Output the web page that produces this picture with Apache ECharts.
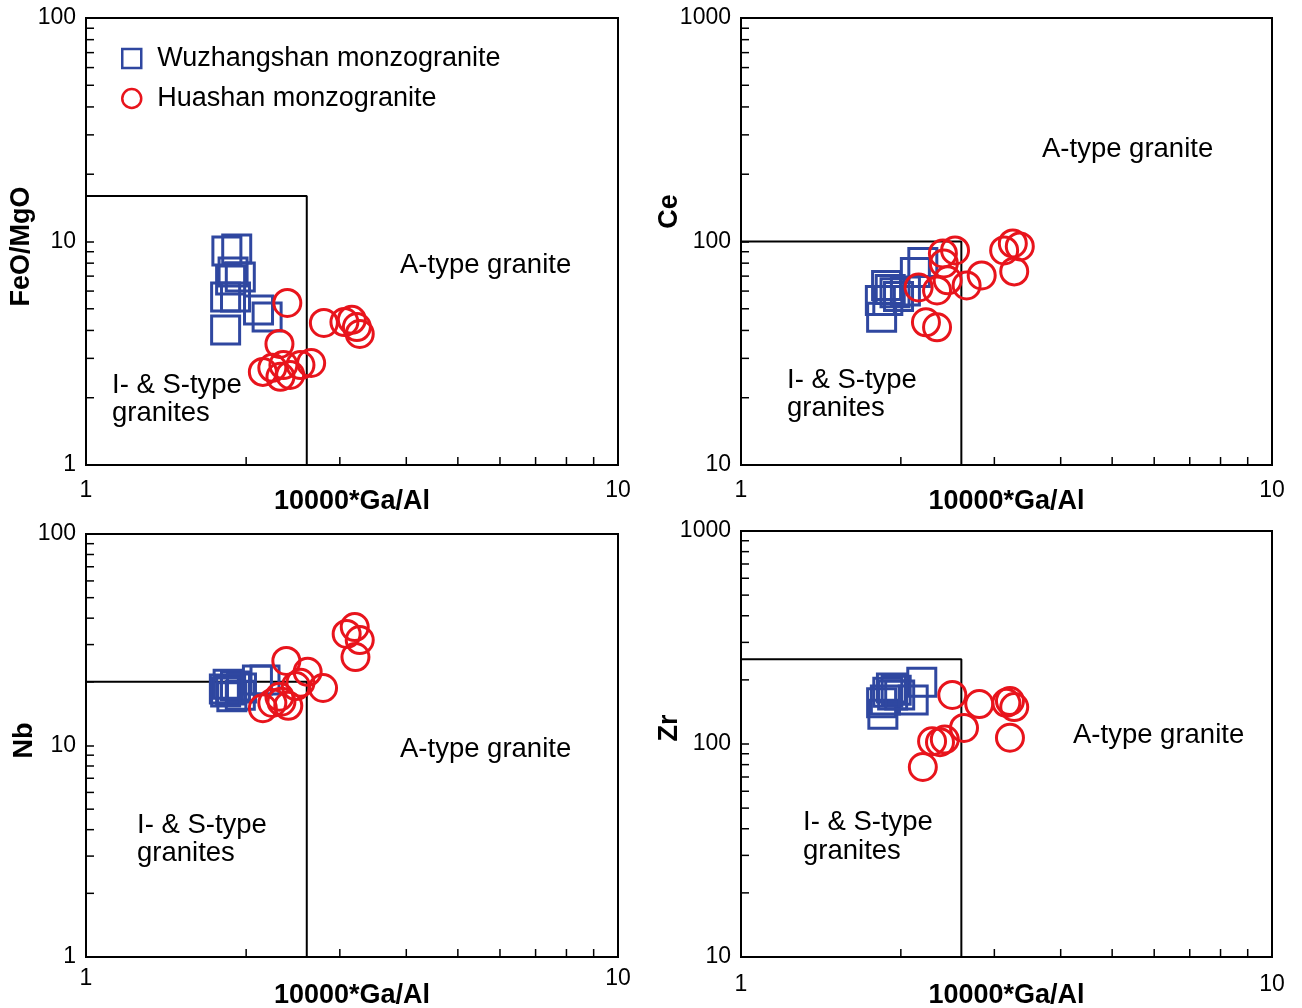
<!DOCTYPE html>
<html>
<head>
<meta charset="utf-8">
<title>Ga/Al discrimination diagrams</title>
<script src="https://cdn.jsdelivr.net/npm/echarts@6/dist/echarts.min.js"></script>
<style>
  html, body { margin: 0; padding: 0; background: #fff; }
  #chart { width: 1302px; height: 1008px; }
</style>
</head>
<body>
<div id="chart"></div>
<script>
// ---- Sample data (10000*Ga/Al vs. discriminant) ----
// FeO/MgO diagram
const wzGaAlFeo = [1.84, 1.92, 1.89, 1.95, 1.83, 1.91, 1.83, 2.11, 2.19, 1.87];
const wzFeoMgo  = [9.07, 9.26, 7.30, 6.94, 5.65, 5.65, 4.02, 4.94, 4.59, 6.73];
const hsGaAlFeo = [2.39, 2.31, 2.15, 2.24, 2.35, 2.42, 2.53, 2.65, 2.32, 2.80, 3.06, 3.16, 3.23, 3.27];
const hsFeoMgo  = [5.31, 3.48, 2.61, 2.72, 2.80, 2.53, 2.80, 2.86, 2.48, 4.32, 4.36, 4.46, 4.14, 3.86];

// Ce diagram
const wzGaAlCe = [1.83, 1.84, 1.88, 1.91, 1.95, 1.98, 2.13, 2.20, 1.89, 2.04];
const wzCe     = [54.5, 45.8, 63.6, 61.0, 59.0, 56.8, 72.7, 80.6, 54.5, 60.0];
const hsGaAlCe = [2.16, 2.34, 2.40, 2.53, 2.41, 2.45, 2.66, 2.84, 2.23, 2.34, 3.13, 3.25, 3.35, 3.27];
const hsCe     = [62.3, 60.4, 88.4, 91.2, 79.8, 67.0, 63.6, 70.5, 43.5, 41.3, 91.2, 98.0, 95.0, 73.5];

// Nb diagram
const wzGaAlNb = [1.82, 1.87, 1.88, 1.91, 1.96, 1.83, 2.10, 2.17, 1.95, 1.85];
const wzNb     = [18.5, 18.3, 17.0, 19.1, 18.7, 17.9, 20.4, 20.4, 17.3, 19.5];
const hsGaAlNb = [2.15, 2.24, 2.31, 2.33, 2.38, 2.40, 2.48, 2.61, 2.53, 2.79, 3.09, 3.20, 3.27, 3.21];
const hsNb     = [15.0, 15.9, 17.0, 16.1, 25.1, 15.4, 19.1, 22.3, 19.8, 18.7, 33.7, 36.3, 31.5, 26.2];

// Zr diagram
const wzGaAlZr = [1.84, 1.85, 1.89, 1.92, 1.96, 1.99, 2.19, 2.11, 1.87, 1.93];
const wzZr     = [156, 138, 175, 183, 179, 170, 195, 161, 161, 170];
const hsGaAlZr = [2.20, 2.29, 2.37, 2.42, 2.50, 2.63, 2.81, 3.16, 3.21, 3.27, 3.21];
const hsZr     = [78, 103, 102, 105, 170, 119, 154, 156, 159, 149, 107];

// Field boundaries (Whalen et al., 1987)
const gaAlLimit = 2.6;
const feoLimit = 16;
const ceLimit = 100;
const nbLimit = 20;
const zrLimit = 250;

// Axis ranges
const xRange = [1, 10];
const feoRange = [1, 100];
const ceRange = [10, 1000];
const nbRange = [1, 100];
const zrRange = [10, 1000];

// Minor tick values
const xMinorTicks = [2, 3, 4, 5, 6, 7, 8, 9];
const yMinorTicks1to100 = [2, 3, 4, 5, 6, 7, 8, 9, 20, 30, 40, 50, 60, 70, 80, 90];
const yMinorTicks10to1000 = [20, 30, 40, 50, 60, 70, 80, 90, 200, 300, 400, 500, 600, 700, 800, 900];

const seriesNames = ['Wuzhangshan monzogranite', 'Huashan monzogranite'];
const FONT = '"Liberation Sans", Arial, Helvetica, sans-serif';
const BLUE = '#2f47a0';
const RED = '#e8141c';

const zip = (a, b) => a.map((v, i) => [v, b[i]]);
const plainNumber = v => String(Math.round(v));

const panels = [
  { grid: { left: 86, top: 18, width: 532, height: 447 }, yName: 'FeO/MgO', yRange: feoRange,
    yTicks: yMinorTicks1to100, limit: feoLimit, wz: zip(wzGaAlFeo, wzFeoMgo), hs: zip(hsGaAlFeo, hsFeoMgo),
    labelMargin: 14, nameGap: 23, yNameGap: 51, yNamePad: [0, 10, 0, 0] },
  { grid: { left: 741, top: 18, width: 531, height: 447 }, yName: 'Ce', yRange: ceRange,
    yTicks: yMinorTicks10to1000, limit: ceLimit, wz: zip(wzGaAlCe, wzCe), hs: zip(hsGaAlCe, hsCe),
    labelMargin: 14, nameGap: 23, yNameGap: 58, yNamePad: [0, 0, 0, 60] },
  { grid: { left: 86, top: 534, width: 532, height: 423 }, yName: 'Nb', yRange: nbRange,
    yTicks: yMinorTicks1to100, limit: nbLimit, wz: zip(wzGaAlNb, wzNb), hs: zip(hsGaAlNb, hsNb),
    labelMargin: 10, nameGap: 25, yNameGap: 48, yNamePad: [0, 0, 0, 10] },
  { grid: { left: 741, top: 531, width: 531, height: 426 }, yName: 'Zr', yRange: zrRange,
    yTicks: yMinorTicks10to1000, limit: zrLimit, wz: zip(wzGaAlZr, wzZr), hs: zip(hsGaAlZr, hsZr),
    labelMargin: 16, nameGap: 25, yNameGap: 58, yNamePad: [0, 0, 0, 32] }
];

const grid = [], xAxis = [], yAxis = [], series = [];

panels.forEach((p, i) => {
  grid.push(Object.assign({
    show: true, borderColor: '#000', borderWidth: 2, backgroundColor: 'transparent',
    containLabel: false, outerBoundsMode: 'none'
  }, p.grid));

  xAxis.push({
    gridIndex: i, type: 'log', logBase: 10, min: xRange[0], max: xRange[1],
    axisLine: { show: true, lineStyle: { color: '#000', width: 2 } },
    axisTick: { show: false },
    splitLine: { show: false },
    axisLabel: { color: '#000', fontSize: 23, fontFamily: FONT, margin: p.labelMargin, formatter: plainNumber },
    name: '10000*Ga/Al', nameLocation: 'middle', nameGap: p.nameGap, nameMoveOverlap: false,
    nameTextStyle: { color: '#000', fontSize: 27, fontWeight: 'bold', fontFamily: FONT }
  });

  yAxis.push({
    gridIndex: i, type: 'log', logBase: 10, min: p.yRange[0], max: p.yRange[1],
    axisLine: { show: true, lineStyle: { color: '#000', width: 2 } },
    axisTick: { show: true, inside: true, length: 8, lineStyle: { color: '#000', width: 1.5 } },
    splitLine: { show: false },
    axisLabel: { color: '#000', fontSize: 23, fontFamily: FONT, margin: 10, formatter: plainNumber },
    name: p.yName, nameLocation: 'middle', nameGap: p.yNameGap, nameMoveOverlap: false,
    nameTextStyle: { color: '#000', fontSize: 27, fontWeight: 'bold', fontFamily: FONT, padding: p.yNamePad }
  });

  // Minor ticks along the bottom and left axes, placed through the axis scales
  const tickData = xMinorTicks.map(v => [v, p.yRange[0], 0])
    .concat(p.yTicks.map(v => [xRange[0], v, 1]));
  series.push({
    type: 'custom', xAxisIndex: i, yAxisIndex: i, silent: true, clip: false, z: 1,
    encode: { x: 0, y: 1 },
    data: tickData,
    renderItem: function (params, api) {
      const pt = api.coord([api.value(0), api.value(1)]);
      const vertical = api.value(2) === 0;
      return {
        type: 'line',
        shape: vertical
          ? { x1: pt[0], y1: pt[1], x2: pt[0], y2: pt[1] - 8 }
          : { x1: pt[0], y1: pt[1], x2: pt[0] + 8, y2: pt[1] },
        style: { stroke: '#000', lineWidth: 1.5 }
      };
    }
  });

  // Field boundary between I-&S-type and A-type granites
  series.push({
    type: 'line', xAxisIndex: i, yAxisIndex: i, silent: true, z: 2,
    symbol: 'none', lineStyle: { color: '#000', width: 2 },
    data: [[xRange[0], p.limit], [gaAlLimit, p.limit], [gaAlLimit, p.yRange[0]]]
  });

  series.push({
    type: 'scatter', name: seriesNames[0], xAxisIndex: i, yAxisIndex: i, z: 3,
    symbol: 'rect', symbolSize: 28,
    itemStyle: { color: 'rgba(0,0,0,0)', borderColor: BLUE, borderWidth: 3, opacity: 1 },
    data: p.wz
  });
  series.push({
    type: 'scatter', name: seriesNames[1], xAxisIndex: i, yAxisIndex: i, z: 4,
    symbol: 'circle', symbolSize: 27,
    itemStyle: { color: 'rgba(0,0,0,0)', borderColor: RED, borderWidth: 3, opacity: 1 },
    data: p.hs
  });
});

// Field labels
const fieldText = (x, y, text) => ({
  type: 'text', x: x, y: y, silent: true,
  style: { text: text, fill: '#000', font: '27.5px ' + FONT, align: 'left', verticalAlign: 'middle' }
});
const graphic = [
  fieldText(400, 265, 'A-type granite'),
  fieldText(112, 385, 'I- & S-type'),
  fieldText(112, 413, 'granites'),
  fieldText(1042, 149, 'A-type granite'),
  fieldText(787, 380, 'I- & S-type'),
  fieldText(787, 408, 'granites'),
  fieldText(400, 749, 'A-type granite'),
  fieldText(137, 825, 'I- & S-type'),
  fieldText(137, 853, 'granites'),
  fieldText(1073, 735, 'A-type granite'),
  fieldText(803, 822, 'I- & S-type'),
  fieldText(803, 851, 'granites')
];

const chart = echarts.init(document.getElementById('chart'), null, { renderer: 'canvas' });
chart.setOption({
  backgroundColor: '#fff',
  animation: false,
  legend: {
    data: seriesNames, orient: 'vertical', left: 116, top: 40,
    itemWidth: 19, itemHeight: 19, itemGap: 13,
    itemStyle: { borderWidth: 2.5, opacity: 1 },
    textStyle: { color: '#000', fontSize: 27, fontFamily: FONT, padding: [0, 0, 0, 11] },
    selectedMode: false
  },
  grid: grid,
  xAxis: xAxis,
  yAxis: yAxis,
  series: series,
  graphic: graphic
});
</script>
</body>
</html>
